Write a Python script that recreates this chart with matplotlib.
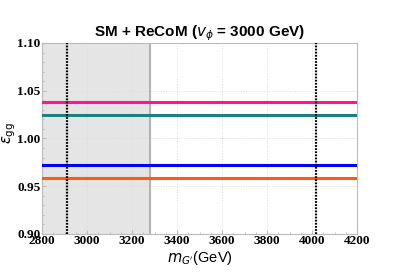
import matplotlib
matplotlib.use("Agg")
import matplotlib.pyplot as plt
from matplotlib.ticker import MultipleLocator

# horizontal ratio levels
levels = [1.0385, 1.025, 0.972, 0.959]
level_colors = ["#ff1493", "#1a8080", "#0000ff", "#ff5a14"]

# vertical marker positions (GeV)
vlines = [2910, 4018]
excluded_upto = 3280

xlim = (2800, 4200)
ylim = (0.90, 1.10)
xticks = [2800, 3000, 3200, 3400, 3600, 3800, 4000, 4200]
yticks = [0.90, 0.95, 1.00, 1.05, 1.10]

keycolor = "#bbbbbb"

fig = plt.figure(figsize=(3.99, 2.79), dpi=100)
ax = fig.add_axes([42 / 399, 1 - 234 / 279, 315 / 399, 191 / 279])

ax.axvspan(xlim[0], excluded_upto, color="#e5e5e5", zorder=0)
ax.axvline(excluded_upto, color="#aaaaaa", lw=1.2, zorder=1)

for lev, col in zip(levels, level_colors):
    ax.axhline(lev, color=col, lw=2.2, zorder=3)

for xv in vlines:
    ax.axvline(xv, color="black", lw=1.6, ls=(0, (0.8, 0.6)), zorder=4)

ax.set_xlim(*xlim)
ax.set_ylim(*ylim)
ax.set_xticks(xticks)
ax.set_yticks(yticks)
ax.xaxis.set_minor_locator(MultipleLocator(50))
ax.yaxis.set_minor_locator(MultipleLocator(0.01))
ax.set_xticklabels([str(t) for t in xticks], family="Liberation Serif",
                   fontweight="bold", fontsize=9.5)
ax.set_yticklabels(["%.2f" % t for t in yticks], family="Liberation Serif",
                   fontweight="bold", fontsize=9.5)
ax.tick_params(which="both", direction="in", color=keycolor, pad=1)
ax.tick_params(which="major", length=3)
ax.tick_params(which="minor", length=1.5)
ax.grid(True, which="major", color="#dddddd", ls=":", lw=0.7, zorder=0)
ax.set_axisbelow(True)
for sp in ax.spines.values():
    sp.set_color(keycolor)

ax.set_title(r"SM + ReCoM ($\boldsymbol{v_\phi}$ = 3000 GeV)", family="Liberation Sans",
             fontweight="bold", fontsize=11, pad=4)
ax.set_xlabel(r"$m_{G'}$(GeV)", family="Liberation Sans", fontsize=10.5, labelpad=1)
ax.set_ylabel(r"$\epsilon_{\rm gg}$", fontsize=10.5)
ax.yaxis.set_label_coords(-0.075, 0.53)

fig.savefig("out.png", dpi=100)
